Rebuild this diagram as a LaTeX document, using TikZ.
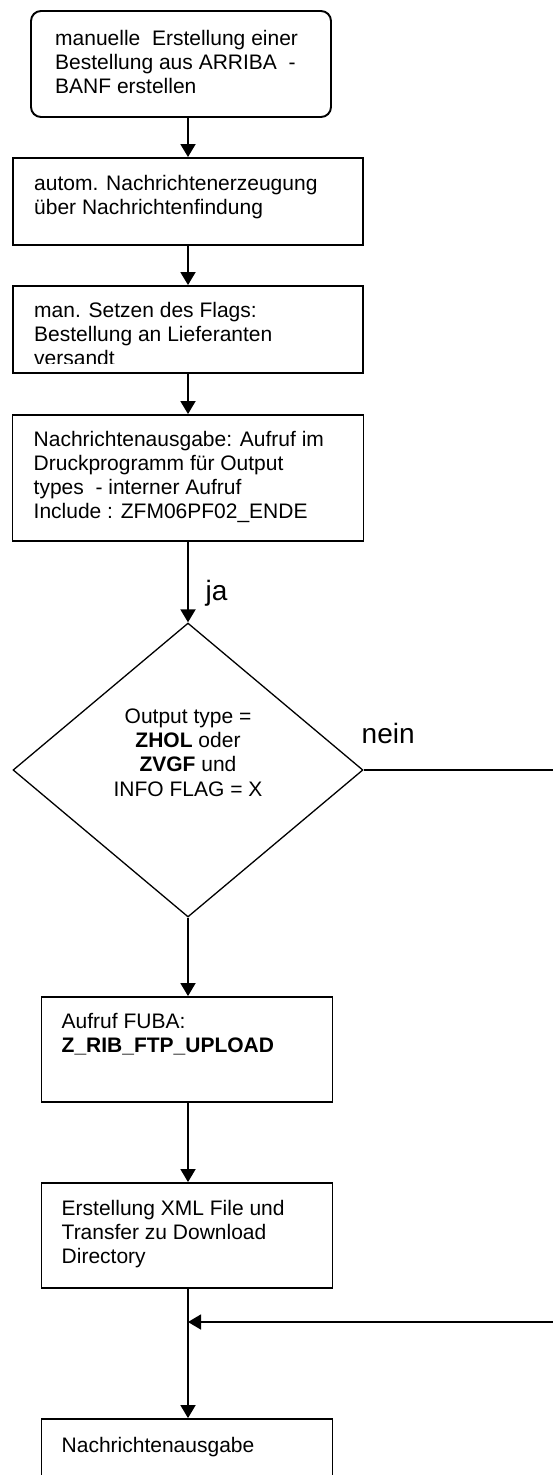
\documentclass[tikz,border=0pt]{standalone}
\usepackage{fontspec}
\setmainfont{Liberation Sans}
\usetikzlibrary{arrows.meta,shapes.geometric}
\tikzset{
  box/.style={draw, line width=1.9pt, rectangle, inner sep=0pt},
  rbox/.style={box, rounded corners=10pt},
  dec/.style={draw, line width=1.3pt, diamond, inner sep=0pt},
  txt/.style={anchor=base west, inner sep=0pt, font=\fontsize{21}{24.2}\selectfont},
  ctxt/.style={anchor=base, inner sep=0pt, font=\fontsize{21}{24.4}\selectfont},
  lbl/.style={anchor=base west, inner sep=0pt, font=\fontsize{28}{32}\selectfont},
  flow/.style={line width=1.9pt, -{Triangle[length=13pt,width=15pt]}},
  plain/.style={line width=1.5pt},
}
\begin{document}
\begin{tikzpicture}[x=1pt,y=-1pt]
\fill[white] (0,0) rectangle (553,1475);
\useasboundingbox (0,0) rectangle (553,1475);

% boxes
\node[rbox, minimum width=300pt, minimum height=106pt] (b1) at (181,64) {};
\node[box, minimum width=350pt, minimum height=87pt] (b2) at (188,201.5) {};
\node[box, minimum width=350pt, minimum height=87pt] (b3) at (188,329.5) {};
\node[box, minimum width=351pt, minimum height=126pt] (b4) at (188,478) {};
\node[dec, minimum width=350pt, minimum height=294pt] (d) at (188,770) {};
\node[box, minimum width=291pt, minimum height=105pt] (b5) at (187,1049.5) {};
\node[box, minimum width=291pt, minimum height=105pt] (b6) at (187,1235.5) {};
\begin{scope}
\clip (0,0) rectangle (553,1475);
\node[box, minimum width=291pt, minimum height=120pt] (b7) at (187,1479) {};
\end{scope}

% texts
\node[txt] (t1) at (55,45) {\vtop{\hbox{manuelle\ \ Erstellung einer}\hbox{Bestellung aus ARRIBA\ \ -}\hbox{BANF erstellen}}};
\node[txt] (t2) at (34,190) {\vtop{\hbox{autom. Nachrichtenerzeugung}\hbox{über Nachrichtenfindung}}};
\begin{scope}
\clip (13,286) rectangle (363,363);
\node[txt] (t3) at (34,317) {\vtop{\hbox{man. Setzen des Flags:}\hbox{Bestellung an Lieferanten}\hbox{versandt}}};
\end{scope}
\node[txt] (t4) at (33.5,446) {\vtop{\hbox{Nachrichtenausgabe: Aufruf im}\hbox{Druckprogramm für Output}\hbox{types\ \ - interner Aufruf}\hbox{Include : ZFM06PF02\_ENDE}}};
\node[ctxt] (td) at (188,723) {\vtop{\hbox to 200pt{\hfil Output type =\hfil}\hbox to 200pt{\hfil\textbf{ZHOL} oder\hfil}\hbox to 200pt{\hfil\textbf{ZVGF} und\hfil}\hbox to 200pt{\hfil INFO FLAG = X\hfil}}};
\node[txt] (t5) at (61.5,1028) {\vtop{\hbox{Aufruf FUBA:}\hbox{\textbf{Z\_RIB\_FTP\_UPLOAD}}}};
\node[txt] (t6) at (61.5,1215) {\vtop{\hbox{Erstellung XML File und}\hbox{Transfer zu Download}\hbox{Directory}}};
\node[txt] (t7) at (61.5,1452) {Nachrichtenausgabe};

% labels
\node[lbl] (ja) at (205.5,600) {ja};
\node[lbl] (nein) at (361.5,743) {nein};

% coordinates at right edge
\coordinate (r1) at (553,770);
\coordinate (r2) at (553,1322);

% connectors
\draw[flow] (b2.north |- b1.south) -- (b2.north);
\draw[flow] (b2.south) -- (b3.north);
\draw[flow] (b3.south) -- (b4.north);
\draw[flow] (b4.south) -- (d.north);
\draw[flow] (d.south) -- (d.south |- b5.north);
\draw[flow] (d.south |- b5.south) -- (d.south |- b6.north);
\draw[flow] (d.south |- b6.south) -- (d.south |- b7.north);
\draw[plain] (d.east) -- (r1);
\draw[plain, -{Triangle[length=13pt,width=15pt]}] (r2) -- (r2 -| d.south);
\end{tikzpicture}
\end{document}
